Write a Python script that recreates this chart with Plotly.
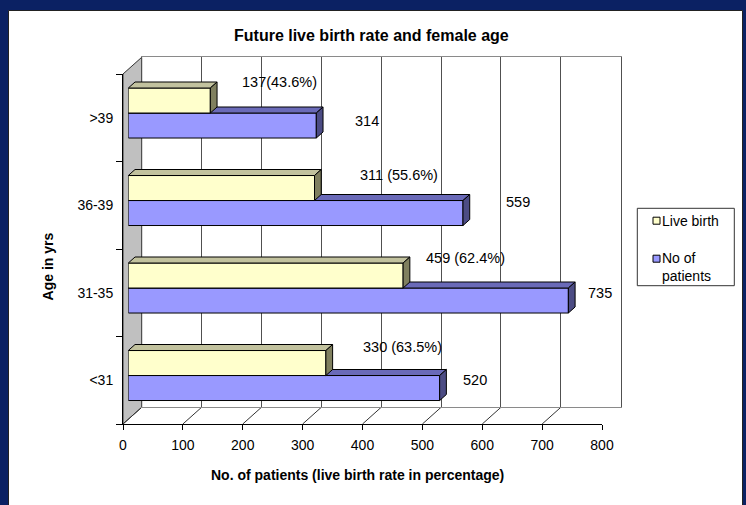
import plotly.graph_objects as go

# ---------------- data ----------------
age_groups = ["<31", "31-35", "36-39", ">39"]          # bottom -> top
live_birth = [330, 459, 311, 137]
patients = [520, 735, 559, 314]
live_rate = [63.5, 62.4, 55.6, 43.6]
live_labels = ["330 (63.5%)", "459 (62.4%)", "311 (55.6%)", "137(43.6%)"]
patient_labels = ["520", "735", "559", "314"]
x_ticks = [0, 100, 200, 300, 400, 500, 600, 700, 800]

# label anchor positions (axis units of the bar plane) - styling only
live_label_x = [388.6, 493.9, 384.1, 186.6]
live_label_y = [0.323, 1.340, 2.292, 3.358]
pat_label_x = [556.2, 764.4, 627.0, 375.8]
pat_label_y = [-0.047, 0.947, 1.987, 2.913]

# ---------------- geometry / style ----------------
W, H = 746, 505
def px(x):
    return x / W
def py(y):
    return 1 - y / H

FX0, FX1 = 123, 602      # front plane x extent (px)
FY0, FY1 = 74, 424       # front plane y extent (px)
DX, DY = 18.7, 16.7      # chart depth offset (px)
BF = 0.283               # bar front-face depth fraction
BD = 0.36                # bar depth fraction
XMAX = 800
NCAT = len(age_groups)
s = (FX1 - FX0) / XMAX
ch = (FY1 - FY0) / NCAT
bw = 25 / ch             # bar thickness in category units
dxd = DX * BD / s
dyd = DY * BD / ch

FONT = "Arial, Liberation Sans, sans-serif"
NAVY = "#0B2163"
Y_FRONT, Y_TOP, Y_SIDE = "#FFFFCC", "#C2C29E", "#80805F"
B_FRONT, B_TOP, B_SIDE = "#9999FF", "#6A6AB8", "#4C4C84"
GRID = "#505050"

ypos = list(range(NCAT))


def faces(values, base):
    tx, ty, sx, sy = [], [], [], []
    for v, yc in zip(values, ypos):
        yb = yc + base
        yt = yb + bw
        tx += [0, v, v + dxd, dxd, 0, None]
        ty += [yt, yt, yt + dyd, yt + dyd, yt, None]
        sx += [v, v + dxd, v + dxd, v, v, None]
        sy += [yb, yb + dyd, yt + dyd, yt, yb, None]
    return tx, ty, sx, sy


fig = go.Figure()

# invisible trace so the back-wall subplot (gridlines) is rendered
fig.add_trace(go.Scatter(x=[x_ticks[0], x_ticks[-1]], y=[0, 1], mode="none",
                         xaxis="x2", yaxis="y2", hoverinfo="skip", showlegend=False))

# blue series (base subplot x3/y3)
fig.add_trace(go.Bar(x=patients, y=ypos, orientation="h", width=bw, offset=-bw,
                     marker=dict(color=B_FRONT, line=dict(color="black", width=1)),
                     name="No of patients", xaxis="x3", yaxis="y3",
                     hoverinfo="skip", showlegend=False))
tx, ty, sx, sy = faces(patients, -bw)
fig.add_trace(go.Scatter(x=tx, y=ty, fill="toself", fillcolor=B_TOP, mode="lines",
                         line=dict(color="black", width=1), xaxis="x3", yaxis="y3",
                         hoverinfo="skip", showlegend=False, cliponaxis=False))
fig.add_trace(go.Scatter(x=sx, y=sy, fill="toself", fillcolor=B_SIDE, mode="lines",
                         line=dict(color="black", width=1), xaxis="x3", yaxis="y3",
                         hoverinfo="skip", showlegend=False, cliponaxis=False))

# yellow series (overlay subplot x3/y4)
fig.add_trace(go.Bar(x=live_birth, y=ypos, orientation="h", width=bw, offset=0,
                     marker=dict(color=Y_FRONT, line=dict(color="black", width=1)),
                     name="Live birth", xaxis="x3", yaxis="y4",
                     hoverinfo="skip", showlegend=False))
tx, ty, sx, sy = faces(live_birth, 0)
fig.add_trace(go.Scatter(x=tx, y=ty, fill="toself", fillcolor=Y_TOP, mode="lines",
                         line=dict(color="black", width=1), xaxis="x3", yaxis="y4",
                         hoverinfo="skip", showlegend=False, cliponaxis=False))
fig.add_trace(go.Scatter(x=sx, y=sy, fill="toself", fillcolor=Y_SIDE, mode="lines",
                         line=dict(color="black", width=1), xaxis="x3", yaxis="y4",
                         hoverinfo="skip", showlegend=False, cliponaxis=False))

shapes = []
# white panel
shapes.append(dict(type="rect", xref="paper", yref="paper", x0=px(8.5), x1=px(742.5),
                   y0=py(530), y1=py(10.5), fillcolor="white",
                   line=dict(color="#222222", width=1), layer="below"))
# gray side wall
wall = (f"M {px(FX0)},{py(FY0)} L {px(FX0+DX)},{py(FY0-DY)} "
        f"L {px(FX0+DX)},{py(FY1-DY)} L {px(FX0)},{py(FY1)} Z")
shapes.append(dict(type="path", xref="paper", yref="paper", path=wall,
                   fillcolor="#C0C0C0", line=dict(color="#333333", width=1), layer="below"))
# floor diagonals
for v in x_ticks:
    shapes.append(dict(type="line", xref="x", yref="paper", x0=v, x1=v + DX / s,
                       y0=py(FY1), y1=py(FY1 - DY), line=dict(color="#333333", width=1),
                       layer="below"))

# legend (drawn by hand to match the reference box)
LX0, LX1, LY0, LY1 = 637.3, 734.3, 208.3, 285.7
shapes.append(dict(type="rect", xref="paper", yref="paper", x0=px(LX0), x1=px(LX1),
                   y0=py(LY1), y1=py(LY0), fillcolor="white",
                   line=dict(color="#333333", width=1)))
for yc, col in [(220.7, Y_FRONT), (258.7, B_FRONT)]:
    shapes.append(dict(type="rect", xref="paper", yref="paper", x0=px(653), x1=px(660),
                       y0=py(yc + 3.5), y1=py(yc - 3.5), fillcolor=col,
                       line=dict(color="black", width=1)))

ann = []
ann.append(dict(text="<b>Future live birth rate and female age</b>", xref="paper", yref="paper",
                x=px(371.5), y=py(35.5), xanchor="center", yanchor="middle", showarrow=False,
                font=dict(family=FONT, size=16, color="black")))
ann.append(dict(text="<b>No. of patients (live birth rate in percentage)</b>", xref="paper",
                yref="paper", x=px(357.3), y=py(474.7), xanchor="center", yanchor="middle",
                showarrow=False, font=dict(family=FONT, size=14, color="black")))
ann.append(dict(text="<b>Age in yrs</b>", xref="paper", yref="paper", x=px(47.7), y=py(266.7),
                xanchor="center", yanchor="middle", textangle=-90, showarrow=False,
                font=dict(family=FONT, size=14, color="black")))
for t, x, y in zip(live_labels, live_label_x, live_label_y):
    ann.append(dict(text=t, xref="x3", yref="y3", x=x, y=y, xanchor="left", yanchor="middle",
                    showarrow=False, font=dict(family=FONT, size=14.5, color="black")))
for t, x, y in zip(patient_labels, pat_label_x, pat_label_y):
    ann.append(dict(text=t, xref="x3", yref="y3", x=x, y=y, xanchor="left", yanchor="middle",
                    showarrow=False, font=dict(family=FONT, size=14.5, color="black")))
ann.append(dict(text="Live birth", xref="paper", yref="paper", x=px(659.5), y=py(220.7),
                xanchor="left", yanchor="middle", showarrow=False,
                font=dict(family=FONT, size=14, color="black")))
ann.append(dict(text="No of<br>patients", xref="paper", yref="paper", x=px(659.5), y=py(267),
                xanchor="left", yanchor="middle", align="left", showarrow=False,
                font=dict(family=FONT, size=14, color="black")))

bar_x_dom = [px(FX0 + DX * BF), px(FX1 + DX * BF)]
bar_y_dom = [py(FY1 - DY * BF), py(FY0 - DY * BF)]

fig.update_layout(
    width=W, height=H, autosize=False,
    margin=dict(l=0, r=0, t=0, b=0, pad=0, autoexpand=False),
    paper_bgcolor=NAVY, plot_bgcolor="rgba(0,0,0,0)",
    showlegend=False,
    font=dict(family=FONT, size=13.5, color="black"),
    shapes=shapes, annotations=ann,
    # front plane axes (tick labels, axis lines)
    xaxis=dict(domain=[px(FX0), px(FX1)], range=[0, XMAX], anchor="y",
               tickmode="array", tickvals=x_ticks, ticks="outside", ticklen=5,
               tickcolor="black", showline=True, linecolor="black", linewidth=1,
               showgrid=False, zeroline=False, fixedrange=True, ticklabelstandoff=3,
               tickfont=dict(family=FONT, size=14, color="black")),
    yaxis=dict(domain=[py(FY1), py(FY0)], range=[-0.5, NCAT - 0.5], anchor="x",
               tickmode="array", tickvals=ypos, ticktext=age_groups, ticks="",
               ticklabelstandoff=6,
               minor=dict(tickmode="array", tickvals=[i - 0.5 for i in range(NCAT + 1)],
                          ticks="outside", ticklen=6, tickcolor="black", showgrid=False),
               showline=True, linecolor="black", linewidth=1,
               showgrid=False, zeroline=False, fixedrange=True,
               tickfont=dict(family=FONT, size=14, color="black")),
    # back wall with gridlines
    xaxis2=dict(domain=[px(FX0 + DX), px(FX1 + DX)], range=[0, XMAX], anchor="y2",
                tickmode="linear", tick0=0, dtick=100, showgrid=True, gridcolor=GRID,
                gridwidth=1, showticklabels=False, ticks="", zeroline=False,
                showline=True, mirror=True, side="top", linecolor="#8a8a8a", linewidth=1,
                fixedrange=True),
    yaxis2=dict(domain=[py(FY1 - DY), py(FY0 - DY)], range=[0, 1], anchor="x2",
                showgrid=False, showticklabels=False, ticks="", zeroline=False,
                showline=True, mirror=True, linecolor=GRID, linewidth=1, fixedrange=True),
    # bar plane
    xaxis3=dict(domain=bar_x_dom, range=[0, XMAX], anchor="y3", visible=False,
                fixedrange=True),
    yaxis3=dict(domain=bar_y_dom, range=[-0.5, NCAT - 0.5], anchor="x3", visible=False,
                fixedrange=True),
    yaxis4=dict(domain=bar_y_dom, range=[-0.5, NCAT - 0.5], anchor="x3", overlaying="y3",
                visible=False, fixedrange=True),
    barmode="overlay",
)

fig.write_html("out.html", config={"responsive": False, "displayModeBar": False})
